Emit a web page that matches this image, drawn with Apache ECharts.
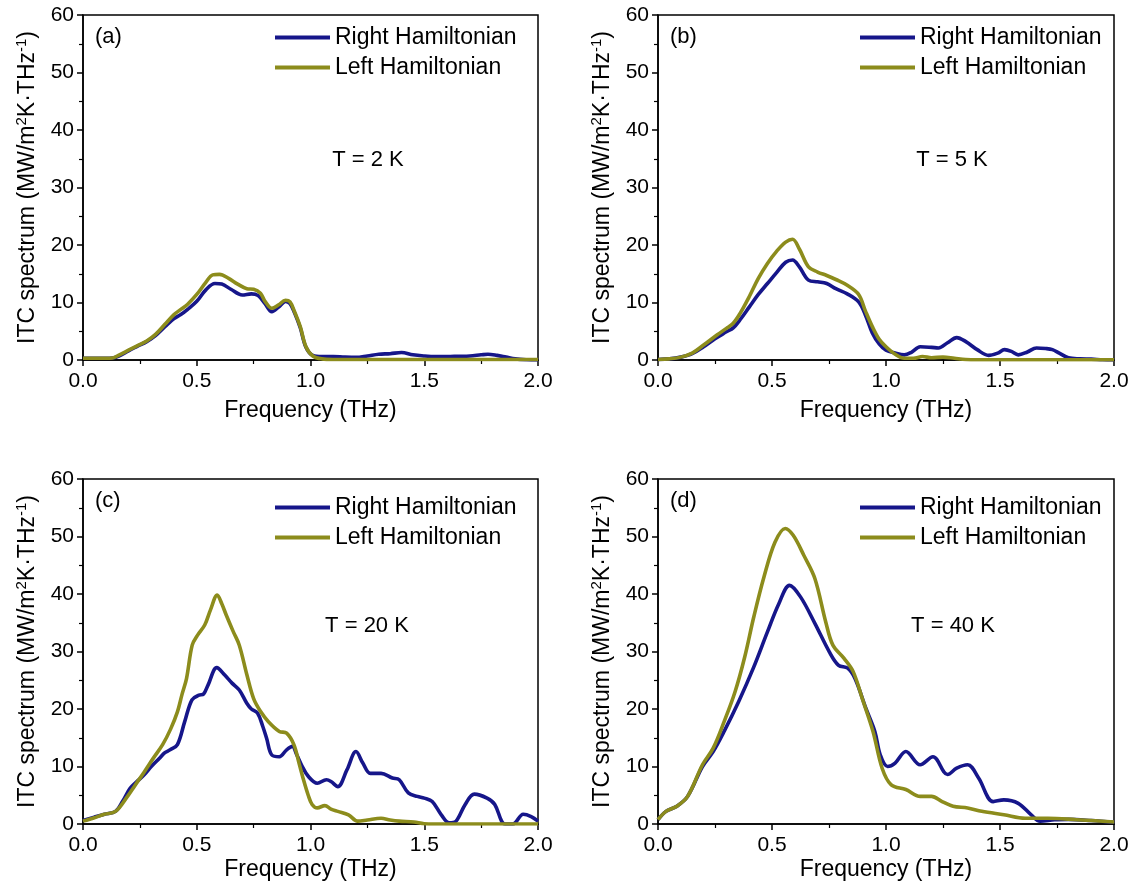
<!DOCTYPE html>
<html>
<head>
<meta charset="utf-8">
<script src="https://cdn.jsdelivr.net/npm/echarts@6/dist/echarts.min.js"></script>
<style>html,body{margin:0;padding:0;background:#fff}#c{width:1138px;height:890px}</style>
</head>
<body>
<div id="c"></div>
<script>
// ---------- data ----------
const seriesNames = ['Right Hamiltonian', 'Left Hamiltonian'];
const panelLetters = ['(a)', '(b)', '(c)', '(d)'];
const tempLabels = ['T = 2 K', 'T = 5 K', 'T = 20 K', 'T = 40 K'];
const xTicks = [0, 0.5, 1.0, 1.5, 2.0];
const yTicks = [0, 10, 20, 30, 40, 50, 60];

// Panel (a) T = 2 K
const aRightX = [0, 0.05, 0.1, 0.13, 0.16, 0.2, 0.24, 0.28, 0.32, 0.36, 0.4, 0.43, 0.46, 0.5, 0.54, 0.58, 0.61, 0.65, 0.7, 0.74, 0.77, 0.8, 0.83, 0.86, 0.89, 0.91, 0.93, 0.955, 0.98, 1.01, 1.05, 1.1, 1.15, 1.2, 1.25, 1.3, 1.35, 1.4, 1.45, 1.5, 1.55, 1.6, 1.65, 1.7, 1.75, 1.78, 1.82, 1.86, 1.9, 1.95, 2.0];
const aRightY = [0.3, 0.3, 0.3, 0.35, 0.7, 1.6, 2.4, 3.2, 4.3, 5.8, 7.2, 7.9, 8.8, 10.2, 12.2, 13.3, 13.2, 12.3, 11.3, 11.5, 11.2, 9.8, 8.4, 9.2, 10.2, 9.8, 8.2, 5.6, 2.2, 0.8, 0.6, 0.6, 0.5, 0.45, 0.7, 1.0, 1.1, 1.3, 0.9, 0.7, 0.6, 0.6, 0.65, 0.7, 0.9, 1.0, 0.8, 0.5, 0.2, 0.05, 0];
const aLeftX = [0, 0.05, 0.1, 0.13, 0.16, 0.2, 0.24, 0.28, 0.32, 0.36, 0.4, 0.43, 0.46, 0.5, 0.54, 0.57, 0.6, 0.64, 0.68, 0.72, 0.75, 0.78, 0.8, 0.83, 0.86, 0.89, 0.91, 0.93, 0.955, 0.98, 1.01, 1.05, 1.1, 1.2, 1.4, 1.6, 1.8, 2.0];
const aLeftY = [0.3, 0.3, 0.3, 0.35, 0.9, 1.7, 2.5, 3.3, 4.5, 6.2, 7.9, 8.8, 9.7, 11.4, 13.5, 14.8, 14.9, 14.2, 13.2, 12.4, 12.3, 11.6, 10.2, 9.0, 9.6, 10.4, 10.1, 8.4, 5.8, 2.3, 0.7, 0.2, 0.1, 0.1, 0.1, 0.1, 0.1, 0.1];

// Panel (b) T = 5 K
const bRightX = [0, 0.05, 0.1, 0.15, 0.2, 0.25, 0.3, 0.33, 0.36, 0.4, 0.44, 0.48, 0.52, 0.56, 0.59, 0.62, 0.66, 0.7, 0.74, 0.78, 0.83, 0.88, 0.91, 0.94, 0.97, 1.0, 1.04, 1.08, 1.11, 1.15, 1.2, 1.23, 1.27, 1.31, 1.35, 1.4, 1.45, 1.49, 1.52, 1.55, 1.58, 1.62, 1.66, 1.7, 1.73, 1.76, 1.8, 1.85, 1.9, 1.95, 2.0];
const bRightY = [0.1, 0.2, 0.5, 1.1, 2.3, 3.7, 4.9, 5.6, 7.0, 9.2, 11.4, 13.3, 15.2, 17.0, 17.4, 16.2, 13.9, 13.6, 13.3, 12.4, 11.5, 10.1, 7.8, 4.7, 2.8, 1.7, 1.2, 0.9, 1.3, 2.3, 2.2, 2.1, 3.0, 3.9, 3.2, 1.8, 0.8, 1.2, 1.8, 1.5, 0.9, 1.4, 2.1, 2.0, 1.8, 1.2, 0.4, 0.2, 0.15, 0.05, 0];
const bLeftX = [0, 0.05, 0.1, 0.15, 0.2, 0.26, 0.3, 0.33, 0.36, 0.4, 0.44, 0.48, 0.52, 0.56, 0.59, 0.62, 0.66, 0.7, 0.74, 0.78, 0.83, 0.88, 0.91, 0.94, 0.97, 1.0, 1.04, 1.08, 1.12, 1.16, 1.2, 1.25, 1.3, 1.35, 1.4, 1.6, 1.8, 2.0];
const bLeftY = [0.1, 0.2, 0.5, 1.2, 2.6, 4.4, 5.5, 6.4, 8.1, 11.0, 14.2, 16.8, 18.9, 20.5, 21.0, 19.3, 16.2, 15.3, 14.7, 14.0, 13.0, 11.4, 8.5, 5.8, 3.6, 2.3, 1.0, 0.3, 0.3, 0.6, 0.4, 0.5, 0.3, 0.1, 0.05, 0.05, 0.05, 0.05];

// Panel (c) T = 20 K
const cRightX = [0, 0.05, 0.094, 0.143, 0.175, 0.207, 0.24, 0.27, 0.3, 0.335, 0.36, 0.383, 0.415, 0.447, 0.479, 0.51, 0.53, 0.55, 0.588, 0.623, 0.655, 0.687, 0.72, 0.74, 0.767, 0.79, 0.807, 0.83, 0.863, 0.895, 0.92, 0.94, 0.96, 0.99, 1.03, 1.07, 1.09, 1.12, 1.16, 1.2, 1.23, 1.263, 1.31, 1.36, 1.39, 1.43, 1.47, 1.5, 1.535, 1.575, 1.61, 1.64, 1.68, 1.72, 1.776, 1.81, 1.84, 1.855, 1.89, 1.935, 1.97, 2.0];
const cRightY = [0.6, 1.2, 1.7, 2.2, 4.0, 6.2, 7.5, 8.6, 10.0, 11.4, 12.4, 12.9, 13.8, 17.8, 21.6, 22.4, 22.6, 24.2, 27.2, 25.9, 24.5, 23.3, 21.0, 20.0, 19.3, 17.0, 14.9, 12.0, 11.7, 12.9, 13.5, 12.0, 10.3, 8.3, 7.1, 7.7, 7.4, 6.5, 9.4, 12.6, 10.6, 8.8, 8.8, 8.0, 7.7, 5.4, 4.8, 4.5, 3.9, 1.6, 0.2, 0.5, 3.4, 5.2, 4.5, 3.4, 0.5, 0, 0, 1.7, 1.3, 0.5];
const cLeftX = [0, 0.05, 0.094, 0.143, 0.19, 0.23, 0.27, 0.31, 0.35, 0.385, 0.415, 0.435, 0.455, 0.48, 0.503, 0.535, 0.56, 0.59, 0.61, 0.63, 0.66, 0.687, 0.72, 0.75, 0.78, 0.815, 0.863, 0.895, 0.927, 0.95, 0.967, 0.99, 1.007, 1.03, 1.063, 1.09, 1.12, 1.167, 1.207, 1.25, 1.31, 1.35, 1.39, 1.455, 1.5, 1.6, 1.8, 2.0];
const cLeftY = [0.5, 1.1, 1.7, 2.2, 4.5, 6.8, 9.1, 11.5, 13.8, 16.5, 19.5, 22.5, 25.3, 31.1, 32.8, 34.6, 37.2, 39.8, 38.3, 36.3, 33.5, 31.1, 26.0, 21.8, 19.6, 17.8, 16.1, 15.8, 13.8, 10.5, 8.0, 5.0, 3.4, 2.8, 3.2, 2.6, 2.2, 1.6, 0.5, 0.7, 1.0, 0.7, 0.5, 0.35, 0.05, 0, 0, 0];

// Panel (d) T = 40 K
const dRightX = [0, 0.035, 0.083, 0.13, 0.195, 0.242, 0.29, 0.354, 0.418, 0.48, 0.53, 0.577, 0.625, 0.688, 0.752, 0.792, 0.832, 0.864, 0.912, 0.951, 0.975, 1.007, 1.04, 1.087, 1.15, 1.206, 1.27, 1.31, 1.358, 1.406, 1.47, 1.517, 1.58, 1.637, 1.676, 1.74, 1.8, 1.9, 2.0];
const dRightY = [0.75, 2.2, 3.1, 4.8, 10.0, 12.6, 16.1, 21.3, 27.1, 33.4, 38.3, 41.5, 39.5, 34.9, 29.9, 27.6, 27.1, 25.3, 20.1, 16.1, 12.0, 10.0, 10.6, 12.6, 10.3, 11.7, 8.6, 9.7, 10.3, 8.0, 3.9, 4.2, 3.6, 1.6, 0.5, 0.75, 0.8, 0.6, 0.3];
const dLeftX = [0, 0.035, 0.083, 0.13, 0.195, 0.242, 0.29, 0.338, 0.38, 0.42, 0.465, 0.513, 0.558, 0.593, 0.64, 0.688, 0.736, 0.767, 0.816, 0.856, 0.896, 0.943, 0.983, 1.023, 1.087, 1.15, 1.2, 1.246, 1.294, 1.358, 1.42, 1.517, 1.61, 1.71, 1.836, 2.0];
const dLeftY = [0.75, 2.2, 3.1, 4.8, 10.3, 13.2, 17.8, 23.0, 29.0, 36.0, 43.0, 49.0, 51.4, 50.2, 46.7, 42.7, 35.1, 31.1, 28.8, 26.5, 21.8, 16.1, 9.7, 6.8, 6.0, 4.8, 4.8, 3.9, 3.1, 2.8, 2.2, 1.6, 1.0, 1.0, 0.75, 0.35];

const panelData = [
  [[aRightX, aRightY], [aLeftX, aLeftY]],
  [[bRightX, bRightY], [bLeftX, bLeftY]],
  [[cRightX, cRightY], [cLeftX, cLeftY]],
  [[dRightX, dRightY], [dLeftX, dLeftY]]
];

// ---------- layout / style ----------
const FONT = 'Liberation Sans, Arial, Helvetica, sans-serif';
const colors = ['#16168a', '#8c8c1c'];
const grids = [
  {left: 83, top: 15, width: 455, height: 345},
  {left: 658, top: 15, width: 456, height: 345},
  {left: 83, top: 479, width: 455, height: 345},
  {left: 658, top: 479, width: 456, height: 345}
];
const xNameGaps = [39, 39, 34, 34];
const legendPos = [[275, 26], [860, 26], [275, 496], [860, 496]];
const letterPos = [[95, 37], [670, 37], [95, 501], [670, 501]];
const tempPos = [[368, 160], [952, 160], [367, 626], [953, 626]];

const axisLineStyle = {lineStyle: {color: '#000', width: 1.5}};
const option = {
  backgroundColor: '#fff',
  animation: false,
  grid: grids.map(g => Object.assign({show: true, borderColor: '#000', borderWidth: 1.5, containLabel: false}, g)),
  xAxis: grids.map((g, i) => ({
    type: 'value', gridIndex: i, min: xTicks[0], max: xTicks[xTicks.length - 1], interval: 0.5,
    name: 'Frequency (THz)', nameLocation: 'middle', nameGap: xNameGaps[i],
    nameTextStyle: {fontSize: 23, fontFamily: FONT, color: '#000'},
    axisLine: axisLineStyle,
    axisTick: {show: true, inside: false, length: 6, lineStyle: {color: '#000', width: 1.5}},
    minorTick: {show: true, splitNumber: 2, length: 4, lineStyle: {color: '#000', width: 1.2}},
    splitLine: {show: false},
    axisLabel: {fontSize: 21, fontFamily: FONT, color: '#000', margin: 11, formatter: v => v.toFixed(1)}
  })),
  yAxis: grids.map((g, i) => ({
    type: 'value', gridIndex: i, min: yTicks[0], max: yTicks[yTicks.length - 1], interval: 10,
    name: '{a|ITC spectrum (MW/m}{s|2}{a|K·THz}{s|-1}{a|)}', nameLocation: 'middle', nameGap: 42,
    nameTextStyle: {color: '#000', rich: {
      a: {fontSize: 23, fontFamily: FONT, color: '#000', lineHeight: 27},
      s: {fontSize: 15, fontFamily: FONT, color: '#000', lineHeight: 15, verticalAlign: 'top'}
    }},
    axisLine: axisLineStyle,
    axisTick: {show: true, inside: false, length: 6, lineStyle: {color: '#000', width: 1.5}},
    minorTick: {show: true, splitNumber: 2, length: 4, lineStyle: {color: '#000', width: 1.2}},
    splitLine: {show: false},
    axisLabel: {fontSize: 21, fontFamily: FONT, color: '#000', margin: 9}
  })),
  legend: legendPos.map(p => ({
    left: p[0], top: p[1], orient: 'vertical', padding: 0, itemGap: 7,
    icon: 'rect', itemWidth: 55, itemHeight: 4, selectedMode: false,
    data: seriesNames,
    textStyle: {fontSize: 23, fontFamily: FONT, color: '#000', lineHeight: 23}
  })),
  graphic: [
    ...letterPos.map((p, i) => ({type: 'text', x: p[0], y: p[1], style: {text: panelLetters[i], fontSize: 22, fontFamily: FONT, fill: '#000', align: 'left', verticalAlign: 'middle'}})),
    ...tempPos.map((p, i) => ({type: 'text', x: p[0], y: p[1], style: {text: tempLabels[i], fontSize: 22, fontFamily: FONT, fill: '#000', align: 'center', verticalAlign: 'middle'}}))
  ],
  series: []
};

panelData.forEach((pair, i) => {
  pair.forEach((xy, k) => {
    option.series.push({
      name: seriesNames[k], type: 'line', xAxisIndex: i, yAxisIndex: i,
      data: xy[0].map((x, j) => [x, xy[1][j]]),
      smooth: 0.35, showSymbol: false, symbol: 'none', clip: true,
      lineStyle: {color: colors[k], width: 3.6},
      itemStyle: {color: colors[k]},
      z: 2 + k
    });
  });
});

const chart = echarts.init(document.getElementById('c'), null, {renderer: 'canvas'});
chart.setOption(option);
</script>
</body>
</html>
